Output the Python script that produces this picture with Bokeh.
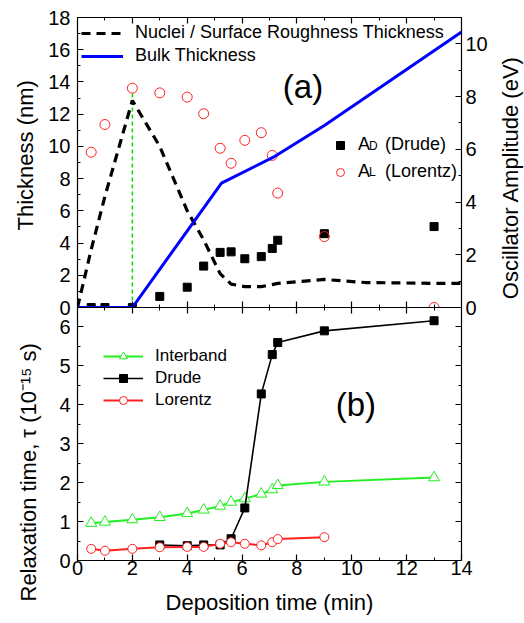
import math
from bokeh.plotting import figure
from bokeh.models import (Range1d, LinearAxis, SingleIntervalTicker, FixedTicker,
                          Legend, LegendItem, Label, Title, CustomJSTickFormatter)
from bokeh.layouts import column, row
from bokeh.embed import file_html
from bokeh.resources import INLINE

FONT = "Liberation Sans"

# ---------------- data ----------------
dep_time = [0.5, 1, 2, 3, 4, 4.6, 5.2, 5.6, 6.1, 6.7, 7.1, 7.3, 9, 13]

# panel (a) - oscillator amplitudes (eV, right axis)
amp_drude = [0, 0, 0, 0.42, 0.77, 1.57, 2.09, 2.11, 1.85, 1.93, 2.24, 2.55, 2.80, 3.07]
amp_lorentz = [5.89, 6.94, 8.32, 8.14, 7.98, 7.35, 6.04, 5.47, 6.34, 6.63, 5.77, 4.34, 2.69, 0]

# panel (a) - thicknesses (nm, left axis)
rough_time = [0, 0.5, 1, 2, 3, 4, 4.6, 5.2, 5.6, 6.1, 6.7, 7.1, 7.3, 9, 10.5, 13, 14]
rough_thk = [0, 3.6, 6.9, 12.85, 10.0, 6.0, 4.2, 2.1, 1.45, 1.3, 1.3, 1.42, 1.5, 1.74, 1.55, 1.5, 1.5]
bulk_time = [0, 2, 5.25, 7.14, 9, 14]
bulk_thk = [0, 0, 7.72, 9.33, 11.3, 17.1]
peak_time = [2, 2]
peak_mark = [0, 13.3]

# panel (b) - relaxation times (1e-15 s)
tau_inter = [0.96, 0.99, 1.05, 1.11, 1.21, 1.30, 1.40, 1.50, 1.59, 1.71, 1.82, 1.93, 2.02, 2.13]
tau_drude_time = [3, 4, 4.6, 5.2, 5.6, 6.1, 6.7, 7.1, 7.3, 9, 13]
tau_drude = [0.40, 0.38, 0.40, 0.40, 0.56, 1.35, 4.28, 5.29, 5.60, 5.90, 6.16]
tau_lor_time = [0.5, 1, 2, 3, 4, 4.6, 5.2, 5.6, 6.1, 6.7, 7.1, 7.3, 9]
tau_lor = [0.30, 0.25, 0.30, 0.34, 0.35, 0.35, 0.43, 0.47, 0.43, 0.39, 0.47, 0.55, 0.60]

# tick positions for the unlabelled inner frame sides
x_inner_major = [2, 4, 6, 8, 10, 12]
x_inner_minor = [1, 3, 5, 7, 9, 11, 13]
tau_inner_major = [1, 2, 3, 4, 5, 6]
tau_inner_minor = [0.5, 1.5, 2.5, 3.5, 4.5, 5.5]


# ---------------- helpers ----------------
def style_axis(ax, labels=True, title=None, standoff=6, title_standoff=8):
    ax.axis_line_color = "black"
    ax.axis_line_width = 1.2
    ax.major_tick_in = 6
    ax.major_tick_out = 0
    ax.minor_tick_in = 3
    ax.minor_tick_out = 0
    ax.major_tick_line_color = "black"
    ax.minor_tick_line_color = "black"
    ax.major_tick_line_width = 1.2
    ax.minor_tick_line_width = 1
    ax.major_label_text_font = FONT
    ax.major_label_text_color = "black"
    if labels:
        ax.major_label_text_font_size = "20px"
        ax.major_label_standoff = standoff
    else:
        ax.formatter = CustomJSTickFormatter(code="return ''")
        ax.major_label_text_font_size = "1px"
        ax.major_label_standoff = 0
    if title:
        ax.axis_label = title
        ax.axis_label_text_font = FONT
        ax.axis_label_text_font_size = "22px"
        ax.axis_label_text_font_style = "normal"
        ax.axis_label_text_color = "black"
        ax.axis_label_standoff = title_standoff


def side_title(p, text, offset, standoff, valign):
    p.add_layout(Title(text=text, align="left", offset=offset,
                       standoff=standoff, vertical_align=valign,
                       text_font=FONT, text_font_size="22px",
                       text_font_style="normal", text_color="black"), "left")


x_rng = Range1d(0, 14)

# ---------------- panel (a) ----------------
p1 = figure(width=490, height=319, x_range=x_rng,
            y_range=Range1d(0, 18), x_axis_location=None, y_axis_location=None,
            output_backend="svg", toolbar_location=None,
            min_border_left=77, min_border_right=28, min_border_top=17,
            min_border_bottom=12)
p1.extra_y_ranges = {"amp": Range1d(0, 11)}
p1.grid.visible = False
p1.outline_line_color = None
p1.background_fill_color = "white"
p1.border_fill_color = "white"

ax_l = LinearAxis(ticker=SingleIntervalTicker(interval=2, num_minor_ticks=2))
style_axis(ax_l, True, standoff=7)
p1.add_layout(ax_l, "left")
ax_r = LinearAxis(y_range_name="amp",
                  ticker=SingleIntervalTicker(interval=2, num_minor_ticks=2))
style_axis(ax_r, True, standoff=4)
p1.add_layout(ax_r, "right")
ax_t = LinearAxis(ticker=FixedTicker(ticks=x_inner_major, minor_ticks=x_inner_minor))
style_axis(ax_t, False)
p1.add_layout(ax_t, "above")
ax_b = LinearAxis(ticker=FixedTicker(ticks=x_inner_major, minor_ticks=x_inner_minor))
style_axis(ax_b, False)
p1.add_layout(ax_b, "below")
side_title(p1, "Thickness (nm)", 77, 16, "bottom")

r_peak = p1.line(peak_time, peak_mark, line_color="#00DD00", line_width=1.5,
                 line_dash="4 3")
r_sq = p1.scatter(dep_time, amp_drude, y_range_name="amp", marker="square",
                  size=8, fill_color="black", line_color="black")
r_ci = p1.scatter(dep_time, amp_lorentz, y_range_name="amp", marker="circle",
                  size=10, fill_color=None, line_color="#FF2020", line_width=1)
r_rough = p1.line(rough_time, rough_thk, line_color="black", line_width=3.2,
                  line_dash="9 6")
r_bulk = p1.line(bulk_time, bulk_thk, line_color="#0000FF", line_width=3)

NB = "\u00a0\u00a0\u00a0"
leg1 = Legend(items=[LegendItem(label="Nuclei / Surface Roughness Thickness", renderers=[r_rough]),
                     LegendItem(label="Bulk Thickness", renderers=[r_bulk])],
              location=(4, 241))
leg2 = Legend(items=[LegendItem(label="A" + NB + "(Drude)", renderers=[r_sq]),
                     LegendItem(label="A" + NB + "(Lorentz)", renderers=[r_ci])],
              location=(253, 125))
for lg, w, sp, so in ((leg1, 42, 2, 12), (leg2, 20, 6, 8)):
    lg.label_text_font = FONT
    lg.label_text_font_size = "18px"
    lg.label_text_color = "black"
    lg.glyph_width = w
    lg.glyph_height = 20
    lg.label_height = 20
    lg.spacing = sp
    lg.padding = 4
    lg.margin = 0
    lg.label_standoff = so
    lg.background_fill_alpha = 0
    lg.border_line_color = None
    p1.add_layout(lg, "center")

for txt, yv in (("D", 9.56), ("L", 7.95)):
    p1.add_layout(Label(x=10.63, y=yv, text=txt, text_font=FONT,
                        text_font_size="12px", text_color="black",
                        text_baseline="bottom", text_align="left"))

p1.add_layout(Label(x=8.22, y=13.72, text="(a)", text_font=FONT,
                    text_font_size="33px", text_color="black",
                    text_align="center", text_baseline="middle"))

# right-hand title strip (reads bottom-to-top)
p_rt = figure(width=34, height=319, x_range=Range1d(0, 1), y_range=Range1d(0, 1),
              x_axis_location=None, y_axis_location=None,
              output_backend="svg", toolbar_location=None, min_border=0)
p_rt.grid.visible = False
p_rt.outline_line_color = None
p_rt.background_fill_alpha = 0
p_rt.border_fill_alpha = 0
p_rt.add_layout(Label(x=0.60, y=0.445, text="Oscillator Amplitude (eV)",
                      angle=math.pi / 2, text_font=FONT, text_font_size="22px",
                      text_color="black", text_align="center",
                      text_baseline="middle"))

# ---------------- panel (b) ----------------
p2 = figure(width=490, height=316, x_range=x_rng,
            y_range=Range1d(0, 6.5), x_axis_location=None, y_axis_location=None,
            output_backend="svg", toolbar_location=None,
            min_border_left=77, min_border_right=28, min_border_top=0,
            min_border_bottom=63)
p2.margin = (-12, 0, 0, 0)
p2.grid.visible = False
p2.outline_line_color = None
p2.background_fill_alpha = 0
p2.border_fill_alpha = 0

bx_b = LinearAxis(ticker=SingleIntervalTicker(interval=2, num_minor_ticks=2))
style_axis(bx_b, True, "Deposition time (min)", standoff=0, title_standoff=12)
p2.add_layout(bx_b, "below")
bx_l = LinearAxis(ticker=SingleIntervalTicker(interval=1, num_minor_ticks=2))
style_axis(bx_l, True, standoff=7)
p2.add_layout(bx_l, "left")
bx_t = LinearAxis(ticker=FixedTicker(ticks=x_inner_major, minor_ticks=x_inner_minor))
style_axis(bx_t, False)
p2.add_layout(bx_t, "above")
bx_r = LinearAxis(ticker=FixedTicker(ticks=tau_inner_major, minor_ticks=tau_inner_minor))
style_axis(bx_r, False)
p2.add_layout(bx_r, "right")
side_title(p2, "Relaxation time, \u03c4 (10\u207b\u00b9\u2075 s)", -41, 28, "top")

GREEN = "#22EE22"
l_int = p2.line(dep_time, tau_inter, line_color=GREEN, line_width=2)
s_int = p2.scatter(dep_time, tau_inter, marker="triangle", size=11,
                   fill_color="white", line_color=GREEN, line_width=1)
l_dru = p2.line(tau_drude_time, tau_drude, line_color="black", line_width=1.6)
s_dru = p2.scatter(tau_drude_time, tau_drude, marker="square", size=8,
                   fill_color="black", line_color="black")
l_lor = p2.line(tau_lor_time, tau_lor, line_color="#FF2020", line_width=2)
s_lor = p2.scatter(tau_lor_time, tau_lor, marker="circle", size=9,
                   fill_color="white", line_color="#FF2020", line_width=1)

leg3 = Legend(items=[LegendItem(label="Interband", renderers=[l_int, s_int]),
                     LegendItem(label="Drude", renderers=[l_dru, s_dru]),
                     LegendItem(label="Lorentz", renderers=[l_lor, s_lor])],
              location=(26, 150))
leg3.label_text_font = FONT
leg3.label_text_font_size = "17px"
leg3.label_text_color = "black"
leg3.glyph_width = 40
leg3.glyph_height = 20
leg3.label_height = 20
leg3.spacing = 2
leg3.padding = 4
leg3.margin = 0
leg3.label_standoff = 12
leg3.background_fill_alpha = 0
leg3.border_line_color = None
p2.add_layout(leg3, "center")

p2.add_layout(Label(x=10.15, y=4.02, text="(b)", text_font=FONT,
                    text_font_size="33px", text_color="black",
                    text_align="center", text_baseline="middle"))

layout = row(column(p1, p2, spacing=0), p_rt, spacing=0)
open("out.html", "w").write(file_html(layout, INLINE))
